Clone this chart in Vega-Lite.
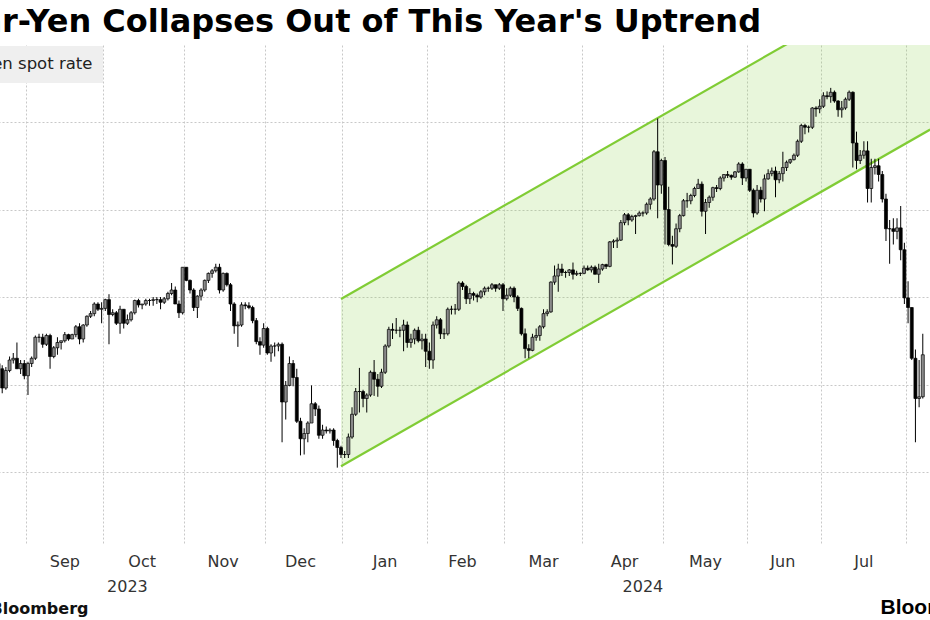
{
"$schema": "https://vega.github.io/schema/vega-lite/v6.json",
"width": 939, "height": 500,
"autosize": {"type": "none"},
"padding": {"left": -7, "top": 45, "right": -2, "bottom": 75},
"background": "white",
"title": {"text": "Dollar-Yen Collapses Out of This Year's Uptrend", "anchor": "start", "frame": "group", "dx": -83, "dy": 2, "font": "DejaVu Sans", "fontSize": 32, "fontWeight": "bold", "color": "#000", "offset": 8},
"config": {"view": {"stroke": null},
  "axis": {"labelFont": "DejaVu Sans", "labelFontSize": 16, "labelColor": "#333", "labelAngle": 0, "domain": false, "ticks": false, "tickSize": 0, "labelOverlap": false, "labelFlush": false},
  "axisY": {"grid": true, "gridColor": "#c8c8c8", "gridDash": [2, 2], "labels": false, "tickCount": 6, "title": null}},
"datasets": {
"channel": [{"d": "2023-12-29", "lower": 140.33, "upper": 149.89}, {"d": "2024-08-09", "lower": 159.57, "upper": 169.13}],
"fx": [
{"d":"2023-08-21","o":145.4,"h":146.4,"l":145.3,"c":146.2},
{"d":"2023-08-22","o":146.2,"h":146.5,"l":145.6,"c":145.9},
{"d":"2023-08-23","o":145.9,"h":146.1,"l":144.5,"c":144.8},
{"d":"2023-08-24","o":144.8,"h":146.0,"l":144.7,"c":145.8},
{"d":"2023-08-25","o":145.8,"h":146.6,"l":145.7,"c":146.4},
{"d":"2023-08-28","o":146.4,"h":146.8,"l":146.2,"c":146.5},
{"d":"2023-08-29","o":146.5,"h":147.4,"l":145.9,"c":145.9},
{"d":"2023-08-30","o":145.9,"h":146.4,"l":145.6,"c":146.2},
{"d":"2023-08-31","o":146.2,"h":146.4,"l":145.3,"c":145.5},
{"d":"2023-09-01","o":145.5,"h":146.3,"l":144.4,"c":146.2},
{"d":"2023-09-04","o":146.2,"h":146.6,"l":146.0,"c":146.5},
{"d":"2023-09-05","o":146.5,"h":147.8,"l":146.4,"c":147.7},
{"d":"2023-09-06","o":147.7,"h":147.9,"l":147.4,"c":147.7},
{"d":"2023-09-07","o":147.7,"h":147.9,"l":147.1,"c":147.3},
{"d":"2023-09-08","o":147.3,"h":147.9,"l":147.2,"c":147.8},
{"d":"2023-09-11","o":147.8,"h":147.9,"l":145.9,"c":146.6},
{"d":"2023-09-12","o":146.6,"h":147.2,"l":146.5,"c":147.1},
{"d":"2023-09-13","o":147.1,"h":147.7,"l":146.7,"c":147.4},
{"d":"2023-09-14","o":147.4,"h":147.5,"l":147.0,"c":147.5},
{"d":"2023-09-15","o":147.5,"h":148.0,"l":147.4,"c":147.85},
{"d":"2023-09-18","o":147.85,"h":147.9,"l":147.5,"c":147.6},
{"d":"2023-09-19","o":147.6,"h":147.9,"l":147.6,"c":147.85},
{"d":"2023-09-20","o":147.85,"h":148.4,"l":147.7,"c":148.3},
{"d":"2023-09-21","o":148.3,"h":148.5,"l":147.3,"c":147.6},
{"d":"2023-09-22","o":147.6,"h":148.45,"l":147.4,"c":148.4},
{"d":"2023-09-25","o":148.4,"h":148.95,"l":148.3,"c":148.9},
{"d":"2023-09-26","o":148.9,"h":149.2,"l":148.8,"c":149.05},
{"d":"2023-09-27","o":149.05,"h":149.7,"l":148.9,"c":149.6},
{"d":"2023-09-28","o":149.6,"h":149.7,"l":149.2,"c":149.3},
{"d":"2023-09-29","o":149.3,"h":149.7,"l":148.5,"c":149.35},
{"d":"2023-10-02","o":149.35,"h":149.9,"l":149.2,"c":149.85},
{"d":"2023-10-03","o":149.85,"h":150.16,"l":147.3,"c":149.0},
{"d":"2023-10-04","o":149.0,"h":149.3,"l":148.9,"c":149.1},
{"d":"2023-10-05","o":149.1,"h":149.2,"l":148.4,"c":148.5},
{"d":"2023-10-06","o":148.5,"h":149.5,"l":147.9,"c":149.3},
{"d":"2023-10-09","o":149.3,"h":149.3,"l":148.2,"c":148.5},
{"d":"2023-10-10","o":148.5,"h":149.0,"l":148.4,"c":148.7},
{"d":"2023-10-11","o":148.7,"h":149.2,"l":148.6,"c":149.1},
{"d":"2023-10-12","o":149.1,"h":149.85,"l":149.0,"c":149.8},
{"d":"2023-10-13","o":149.8,"h":149.9,"l":149.4,"c":149.55},
{"d":"2023-10-16","o":149.55,"h":149.6,"l":149.3,"c":149.6},
{"d":"2023-10-17","o":149.6,"h":149.9,"l":149.5,"c":149.8},
{"d":"2023-10-18","o":149.8,"h":149.9,"l":149.5,"c":149.8},
{"d":"2023-10-19","o":149.8,"h":150.0,"l":149.5,"c":149.85},
{"d":"2023-10-20","o":149.85,"h":150.0,"l":149.6,"c":149.85},
{"d":"2023-10-23","o":149.85,"h":150.0,"l":149.3,"c":149.7},
{"d":"2023-10-24","o":149.7,"h":150.0,"l":149.6,"c":149.9},
{"d":"2023-10-25","o":149.9,"h":150.3,"l":149.8,"c":150.2},
{"d":"2023-10-26","o":150.2,"h":150.8,"l":150.1,"c":150.4},
{"d":"2023-10-27","o":150.4,"h":150.6,"l":149.6,"c":149.6},
{"d":"2023-10-30","o":149.6,"h":149.8,"l":148.8,"c":149.1},
{"d":"2023-10-31","o":149.1,"h":151.7,"l":149.0,"c":151.7},
{"d":"2023-11-01","o":151.7,"h":151.7,"l":150.9,"c":150.95},
{"d":"2023-11-02","o":150.95,"h":151.0,"l":150.2,"c":150.4},
{"d":"2023-11-03","o":150.4,"h":150.5,"l":149.2,"c":149.4},
{"d":"2023-11-06","o":149.4,"h":150.1,"l":148.8,"c":150.05},
{"d":"2023-11-07","o":150.05,"h":150.5,"l":149.8,"c":150.4},
{"d":"2023-11-08","o":150.4,"h":151.0,"l":150.3,"c":150.95},
{"d":"2023-11-09","o":150.95,"h":151.4,"l":150.8,"c":151.35},
{"d":"2023-11-10","o":151.35,"h":151.6,"l":151.1,"c":151.5},
{"d":"2023-11-13","o":151.5,"h":151.9,"l":151.4,"c":151.7},
{"d":"2023-11-14","o":151.7,"h":151.9,"l":150.2,"c":150.4},
{"d":"2023-11-15","o":150.4,"h":151.4,"l":150.3,"c":151.35},
{"d":"2023-11-16","o":151.35,"h":151.4,"l":150.6,"c":150.7},
{"d":"2023-11-17","o":150.7,"h":150.8,"l":149.2,"c":149.6},
{"d":"2023-11-20","o":149.6,"h":149.7,"l":147.9,"c":148.35},
{"d":"2023-11-21","o":148.35,"h":148.6,"l":147.15,"c":148.4},
{"d":"2023-11-22","o":148.4,"h":149.7,"l":148.3,"c":149.55},
{"d":"2023-11-23","o":149.55,"h":149.7,"l":149.3,"c":149.5},
{"d":"2023-11-24","o":149.5,"h":149.7,"l":149.3,"c":149.4},
{"d":"2023-11-27","o":149.4,"h":149.5,"l":148.5,"c":148.65},
{"d":"2023-11-28","o":148.65,"h":148.8,"l":147.3,"c":147.45},
{"d":"2023-11-29","o":147.45,"h":147.7,"l":146.7,"c":147.25},
{"d":"2023-11-30","o":147.25,"h":148.5,"l":147.1,"c":148.2},
{"d":"2023-12-01","o":148.2,"h":148.3,"l":146.7,"c":146.8},
{"d":"2023-12-04","o":146.8,"h":147.3,"l":146.3,"c":147.2},
{"d":"2023-12-05","o":147.2,"h":147.4,"l":146.6,"c":147.2},
{"d":"2023-12-06","o":147.2,"h":147.4,"l":146.9,"c":147.3},
{"d":"2023-12-07","o":147.3,"h":147.4,"l":141.7,"c":144.0},
{"d":"2023-12-08","o":144.0,"h":145.2,"l":143.0,"c":144.95},
{"d":"2023-12-11","o":144.95,"h":146.6,"l":144.9,"c":146.2},
{"d":"2023-12-12","o":146.2,"h":146.4,"l":144.9,"c":145.4},
{"d":"2023-12-13","o":145.4,"h":145.9,"l":142.8,"c":142.9},
{"d":"2023-12-14","o":142.9,"h":143.1,"l":140.95,"c":141.9},
{"d":"2023-12-15","o":141.9,"h":142.5,"l":141.0,"c":142.2},
{"d":"2023-12-18","o":142.2,"h":142.9,"l":141.7,"c":142.8},
{"d":"2023-12-19","o":142.8,"h":144.95,"l":142.8,"c":143.9},
{"d":"2023-12-20","o":143.9,"h":144.0,"l":143.2,"c":143.6},
{"d":"2023-12-21","o":143.6,"h":143.8,"l":141.9,"c":142.1},
{"d":"2023-12-22","o":142.1,"h":142.7,"l":141.9,"c":142.4},
{"d":"2023-12-25","o":142.4,"h":142.6,"l":142.2,"c":142.35},
{"d":"2023-12-26","o":142.35,"h":142.5,"l":142.2,"c":142.4},
{"d":"2023-12-27","o":142.4,"h":142.5,"l":141.5,"c":141.8},
{"d":"2023-12-28","o":141.8,"h":141.9,"l":140.25,"c":141.4},
{"d":"2023-12-29","o":141.4,"h":141.5,"l":140.8,"c":141.0},
{"d":"2024-01-01","o":141.0,"h":141.2,"l":140.8,"c":141.0},
{"d":"2024-01-02","o":141.0,"h":142.2,"l":140.8,"c":142.0},
{"d":"2024-01-03","o":142.0,"h":143.7,"l":141.9,"c":143.3},
{"d":"2024-01-04","o":143.3,"h":144.8,"l":143.2,"c":144.6},
{"d":"2024-01-05","o":144.6,"h":145.95,"l":143.4,"c":144.6},
{"d":"2024-01-08","o":144.6,"h":144.7,"l":143.7,"c":144.2},
{"d":"2024-01-09","o":144.2,"h":144.5,"l":143.4,"c":144.4},
{"d":"2024-01-10","o":144.4,"h":145.8,"l":144.3,"c":145.7},
{"d":"2024-01-11","o":145.7,"h":146.4,"l":144.35,"c":145.3},
{"d":"2024-01-12","o":145.3,"h":145.6,"l":144.3,"c":144.9},
{"d":"2024-01-15","o":144.9,"h":145.9,"l":144.8,"c":145.7},
{"d":"2024-01-16","o":145.7,"h":147.3,"l":145.6,"c":147.2},
{"d":"2024-01-17","o":147.2,"h":148.3,"l":147.1,"c":148.15},
{"d":"2024-01-18","o":148.15,"h":148.5,"l":147.6,"c":148.1},
{"d":"2024-01-19","o":148.1,"h":148.8,"l":147.9,"c":148.1},
{"d":"2024-01-22","o":148.1,"h":148.3,"l":147.7,"c":148.1},
{"d":"2024-01-23","o":148.1,"h":148.7,"l":146.9,"c":148.4},
{"d":"2024-01-24","o":148.4,"h":148.6,"l":147.1,"c":147.4},
{"d":"2024-01-25","o":147.4,"h":147.9,"l":147.1,"c":147.6},
{"d":"2024-01-26","o":147.6,"h":148.2,"l":147.3,"c":148.1},
{"d":"2024-01-29","o":148.1,"h":148.3,"l":147.4,"c":147.5},
{"d":"2024-01-30","o":147.5,"h":147.9,"l":147.0,"c":147.6},
{"d":"2024-01-31","o":147.6,"h":147.9,"l":146.0,"c":146.9},
{"d":"2024-02-01","o":146.9,"h":147.4,"l":145.9,"c":146.4},
{"d":"2024-02-02","o":146.4,"h":148.6,"l":145.9,"c":148.4},
{"d":"2024-02-05","o":148.4,"h":148.9,"l":148.2,"c":148.7},
{"d":"2024-02-06","o":148.7,"h":148.8,"l":147.6,"c":147.9},
{"d":"2024-02-07","o":147.9,"h":148.2,"l":147.6,"c":147.9},
{"d":"2024-02-08","o":147.9,"h":149.4,"l":147.8,"c":149.3},
{"d":"2024-02-09","o":149.3,"h":149.5,"l":149.0,"c":149.3},
{"d":"2024-02-12","o":149.3,"h":149.6,"l":149.0,"c":149.3},
{"d":"2024-02-13","o":149.3,"h":150.9,"l":149.2,"c":150.8},
{"d":"2024-02-14","o":150.8,"h":150.9,"l":150.4,"c":150.6},
{"d":"2024-02-15","o":150.6,"h":150.7,"l":149.6,"c":149.9},
{"d":"2024-02-16","o":149.9,"h":150.5,"l":149.6,"c":150.2},
{"d":"2024-02-19","o":150.2,"h":150.3,"l":149.8,"c":150.1},
{"d":"2024-02-20","o":150.1,"h":150.2,"l":149.7,"c":150.0},
{"d":"2024-02-21","o":150.0,"h":150.4,"l":149.9,"c":150.3},
{"d":"2024-02-22","o":150.3,"h":150.6,"l":150.1,"c":150.5},
{"d":"2024-02-23","o":150.5,"h":150.6,"l":150.3,"c":150.5},
{"d":"2024-02-26","o":150.5,"h":150.8,"l":150.4,"c":150.7},
{"d":"2024-02-27","o":150.7,"h":150.7,"l":150.3,"c":150.5},
{"d":"2024-02-28","o":150.5,"h":150.8,"l":150.4,"c":150.7},
{"d":"2024-02-29","o":150.7,"h":150.8,"l":149.2,"c":149.9},
{"d":"2024-03-01","o":149.9,"h":150.5,"l":149.8,"c":150.1},
{"d":"2024-03-04","o":150.1,"h":150.6,"l":150.0,"c":150.5},
{"d":"2024-03-05","o":150.5,"h":150.6,"l":149.7,"c":150.0},
{"d":"2024-03-06","o":150.0,"h":150.1,"l":149.2,"c":149.35},
{"d":"2024-03-07","o":149.35,"h":149.4,"l":147.8,"c":147.9},
{"d":"2024-03-08","o":147.9,"h":148.2,"l":146.5,"c":147.05},
{"d":"2024-03-11","o":147.05,"h":147.3,"l":146.5,"c":146.95},
{"d":"2024-03-12","o":146.95,"h":147.9,"l":146.9,"c":147.7},
{"d":"2024-03-13","o":147.7,"h":148.2,"l":147.5,"c":147.8},
{"d":"2024-03-14","o":147.8,"h":148.4,"l":147.5,"c":148.3},
{"d":"2024-03-15","o":148.3,"h":149.3,"l":148.2,"c":149.05},
{"d":"2024-03-18","o":149.05,"h":149.3,"l":148.9,"c":149.15},
{"d":"2024-03-19","o":149.15,"h":150.9,"l":149.1,"c":150.85},
{"d":"2024-03-20","o":150.85,"h":151.8,"l":150.7,"c":151.2},
{"d":"2024-03-21","o":151.2,"h":151.9,"l":150.3,"c":151.6},
{"d":"2024-03-22","o":151.6,"h":151.9,"l":151.2,"c":151.4},
{"d":"2024-03-25","o":151.4,"h":151.5,"l":151.1,"c":151.4},
{"d":"2024-03-26","o":151.4,"h":151.6,"l":151.2,"c":151.55},
{"d":"2024-03-27","o":151.55,"h":151.97,"l":151.0,"c":151.3},
{"d":"2024-03-28","o":151.3,"h":151.5,"l":151.2,"c":151.35},
{"d":"2024-03-29","o":151.35,"h":151.4,"l":151.2,"c":151.35},
{"d":"2024-04-01","o":151.35,"h":151.8,"l":151.3,"c":151.65},
{"d":"2024-04-02","o":151.65,"h":151.8,"l":151.5,"c":151.55},
{"d":"2024-04-03","o":151.55,"h":151.8,"l":151.4,"c":151.7},
{"d":"2024-04-04","o":151.7,"h":151.8,"l":151.3,"c":151.3},
{"d":"2024-04-05","o":151.3,"h":151.9,"l":150.8,"c":151.6},
{"d":"2024-04-08","o":151.6,"h":151.9,"l":151.5,"c":151.85},
{"d":"2024-04-09","o":151.85,"h":151.9,"l":151.6,"c":151.75},
{"d":"2024-04-10","o":151.75,"h":153.2,"l":151.7,"c":153.15},
{"d":"2024-04-11","o":153.15,"h":153.3,"l":152.8,"c":153.2},
{"d":"2024-04-12","o":153.2,"h":153.4,"l":152.8,"c":153.25},
{"d":"2024-04-15","o":153.25,"h":154.4,"l":153.2,"c":154.25},
{"d":"2024-04-16","o":154.25,"h":154.8,"l":154.1,"c":154.7},
{"d":"2024-04-17","o":154.7,"h":154.8,"l":154.1,"c":154.4},
{"d":"2024-04-18","o":154.4,"h":154.7,"l":154.3,"c":154.6},
{"d":"2024-04-19","o":154.6,"h":154.7,"l":153.6,"c":154.65},
{"d":"2024-04-22","o":154.65,"h":154.9,"l":154.6,"c":154.8},
{"d":"2024-04-23","o":154.8,"h":154.9,"l":154.6,"c":154.8},
{"d":"2024-04-24","o":154.8,"h":155.4,"l":154.7,"c":155.3},
{"d":"2024-04-25","o":155.3,"h":155.7,"l":155.0,"c":155.6},
{"d":"2024-04-26","o":155.6,"h":158.4,"l":155.5,"c":158.3},
{"d":"2024-04-29","o":158.3,"h":160.2,"l":154.5,"c":156.4},
{"d":"2024-04-30","o":156.4,"h":157.9,"l":155.9,"c":157.8},
{"d":"2024-05-01","o":157.8,"h":158.0,"l":153.0,"c":155.0},
{"d":"2024-05-02","o":155.0,"h":156.3,"l":152.9,"c":153.0},
{"d":"2024-05-03","o":153.0,"h":153.5,"l":151.86,"c":152.9},
{"d":"2024-05-06","o":152.9,"h":154.2,"l":152.8,"c":153.9},
{"d":"2024-05-07","o":153.9,"h":154.75,"l":153.7,"c":154.65},
{"d":"2024-05-08","o":154.65,"h":155.6,"l":154.6,"c":155.5},
{"d":"2024-05-09","o":155.5,"h":155.95,"l":155.1,"c":155.5},
{"d":"2024-05-10","o":155.5,"h":155.9,"l":155.3,"c":155.8},
{"d":"2024-05-13","o":155.8,"h":156.3,"l":155.7,"c":156.2},
{"d":"2024-05-14","o":156.2,"h":156.75,"l":156.2,"c":156.45},
{"d":"2024-05-15","o":156.45,"h":156.6,"l":154.6,"c":154.9},
{"d":"2024-05-16","o":154.9,"h":155.6,"l":153.6,"c":155.4},
{"d":"2024-05-17","o":155.4,"h":155.8,"l":155.1,"c":155.7},
{"d":"2024-05-20","o":155.7,"h":156.3,"l":155.5,"c":156.25},
{"d":"2024-05-21","o":156.25,"h":156.4,"l":156.0,"c":156.2},
{"d":"2024-05-22","o":156.2,"h":156.9,"l":156.1,"c":156.8},
{"d":"2024-05-23","o":156.8,"h":157.0,"l":156.6,"c":157.0},
{"d":"2024-05-24","o":157.0,"h":157.2,"l":156.8,"c":156.95},
{"d":"2024-05-27","o":156.95,"h":157.0,"l":156.7,"c":156.85},
{"d":"2024-05-28","o":156.85,"h":157.2,"l":156.8,"c":157.15},
{"d":"2024-05-29","o":157.15,"h":157.7,"l":157.1,"c":157.6},
{"d":"2024-05-30","o":157.6,"h":157.7,"l":156.4,"c":156.8},
{"d":"2024-05-31","o":156.8,"h":157.3,"l":156.6,"c":157.3},
{"d":"2024-06-03","o":157.3,"h":157.3,"l":156.0,"c":156.1},
{"d":"2024-06-04","o":156.1,"h":156.2,"l":154.55,"c":154.8},
{"d":"2024-06-05","o":154.8,"h":156.4,"l":154.7,"c":156.1},
{"d":"2024-06-06","o":156.1,"h":156.3,"l":155.4,"c":155.6},
{"d":"2024-06-07","o":155.6,"h":157.0,"l":154.9,"c":156.75},
{"d":"2024-06-10","o":156.75,"h":157.3,"l":156.7,"c":157.05},
{"d":"2024-06-11","o":157.05,"h":157.4,"l":156.9,"c":157.2},
{"d":"2024-06-12","o":157.2,"h":157.45,"l":155.7,"c":156.7},
{"d":"2024-06-13","o":156.7,"h":157.2,"l":156.5,"c":157.05},
{"d":"2024-06-14","o":157.05,"h":158.3,"l":156.6,"c":157.4},
{"d":"2024-06-17","o":157.4,"h":157.8,"l":157.2,"c":157.7},
{"d":"2024-06-18","o":157.7,"h":157.9,"l":157.6,"c":157.85},
{"d":"2024-06-19","o":157.85,"h":158.2,"l":157.8,"c":158.1},
{"d":"2024-06-20","o":158.1,"h":159.0,"l":158.0,"c":158.9},
{"d":"2024-06-21","o":158.9,"h":159.9,"l":158.8,"c":159.8},
{"d":"2024-06-24","o":159.8,"h":159.9,"l":159.3,"c":159.7},
{"d":"2024-06-25","o":159.7,"h":159.8,"l":159.4,"c":159.7},
{"d":"2024-06-26","o":159.7,"h":160.85,"l":159.6,"c":160.8},
{"d":"2024-06-27","o":160.8,"h":160.9,"l":160.3,"c":160.75},
{"d":"2024-06-28","o":160.75,"h":161.3,"l":160.5,"c":160.9},
{"d":"2024-07-01","o":160.9,"h":161.7,"l":160.8,"c":161.5},
{"d":"2024-07-02","o":161.5,"h":161.75,"l":161.3,"c":161.45},
{"d":"2024-07-03","o":161.45,"h":161.95,"l":161.1,"c":161.7},
{"d":"2024-07-04","o":161.7,"h":161.8,"l":161.1,"c":161.2},
{"d":"2024-07-05","o":161.2,"h":161.25,"l":160.3,"c":160.7},
{"d":"2024-07-08","o":160.7,"h":161.2,"l":160.25,"c":160.8},
{"d":"2024-07-09","o":160.8,"h":161.4,"l":160.7,"c":161.3},
{"d":"2024-07-10","o":161.3,"h":161.8,"l":161.2,"c":161.7},
{"d":"2024-07-11","o":161.7,"h":161.75,"l":157.4,"c":158.8},
{"d":"2024-07-12","o":158.8,"h":159.45,"l":157.3,"c":157.8},
{"d":"2024-07-15","o":157.8,"h":158.4,"l":157.6,"c":158.1},
{"d":"2024-07-16","o":158.1,"h":158.9,"l":157.9,"c":158.35},
{"d":"2024-07-17","o":158.35,"h":158.9,"l":155.4,"c":156.2},
{"d":"2024-07-18","o":156.2,"h":157.9,"l":155.4,"c":157.4},
{"d":"2024-07-19","o":157.4,"h":157.9,"l":157.0,"c":157.5},
{"d":"2024-07-22","o":157.5,"h":157.9,"l":156.6,"c":157.0},
{"d":"2024-07-23","o":157.0,"h":157.2,"l":155.4,"c":155.6},
{"d":"2024-07-24","o":155.6,"h":155.9,"l":153.2,"c":153.9},
{"d":"2024-07-25","o":153.9,"h":154.4,"l":151.9,"c":153.9},
{"d":"2024-07-26","o":153.9,"h":154.5,"l":153.0,"c":153.75},
{"d":"2024-07-29","o":153.75,"h":154.5,"l":153.3,"c":153.95},
{"d":"2024-07-30","o":153.95,"h":155.2,"l":152.1,"c":152.7},
{"d":"2024-07-31","o":152.7,"h":153.1,"l":149.6,"c":149.95},
{"d":"2024-08-01","o":149.95,"h":150.9,"l":148.5,"c":149.4},
{"d":"2024-08-02","o":149.4,"h":149.4,"l":146.4,"c":146.5},
{"d":"2024-08-05","o":146.5,"h":147.0,"l":141.7,"c":144.2},
{"d":"2024-08-06","o":144.2,"h":146.4,"l":143.7,"c":144.3},
{"d":"2024-08-07","o":144.3,"h":147.9,"l":144.2,"c":146.7}
]},
"resolve": {"axis": {"x": "independent"}},
"layer": [
{"data": {"name": "fx"},
 "mark": {"type": "rule", "strokeWidth": 1, "opacity": 0},
 "encoding": {
  "x": {"field": "d", "type": "ordinal", "sort": "ascending", "scale": {"type": "band", "paddingInner": 0, "paddingOuter": 0, "domain": {"unionWith": ["2024-08-08", "2024-08-09"]}},
        "axis": {"orient": "bottom", "values": ["2023-09-01","2023-10-02","2023-11-01","2023-12-01","2024-01-01","2024-02-01","2024-03-01","2024-04-01","2024-05-01","2024-06-03","2024-07-01","2024-08-01"],
                 "bandPosition": 0, "grid": true, "gridColor": "#c8c8c8", "gridDash": [2, 2], "labels": false,
                 "title": "Source: Bloomberg", "titleFont": "DejaVu Sans", "titleFontSize": 16, "titleFontWeight": "bold", "titleColor": "#111", "titleAlign": "right", "titleBaseline": "alphabetic", "titleAnchor": null, "titleX": 95, "titleY": 68}},
  "y": {"field": "l", "type": "quantitative", "scale": {"domain": [135.83, 164.4], "nice": false, "zero": false},
        "axis": {"orient": "right", "values": [140, 145, 150, 155, 160], "grid": true, "gridColor": "#c8c8c8", "gridDash": [2, 2], "labels": false, "title": null}}
 }},
{"data": {"name": "channel"},
 "mark": {"type": "area", "clip": true, "fill": "#8ed04c", "fillOpacity": 0.2},
 "encoding": {
  "x": {"field": "d", "type": "ordinal", "sort": "ascending",
        "axis": {"orient": "bottom", "values": ["2023-10-10", "2024-04-23"], "labelExpr": "substring(datum.value, 0, 4)", "labelBaseline": "alphabetic", "labelPadding": 46, "grid": false,
                 "title": "Bloomberg", "titleFont": "Liberation Sans", "titleFontSize": 21, "titleFontWeight": "bold", "titleColor": "#000", "titleAlign": "left", "titleBaseline": "alphabetic", "titleAnchor": null, "titleX": 887, "titleY": 68}},
  "y": {"field": "lower", "type": "quantitative", "axis": {"orient": "right", "values": [140, 145, 150, 155, 160], "grid": true, "gridColor": "#c8c8c8", "gridDash": [2, 2], "labels": false, "title": null}},
  "y2": {"field": "upper"}
 }},
{"data": {"name": "channel"},
 "mark": {"type": "line", "clip": true, "color": "#80cc35", "strokeWidth": 2.2},
 "encoding": {"x": {"field": "d", "type": "ordinal", "sort": "ascending", "axis": null}, "y": {"field": "upper", "type": "quantitative", "axis": {"orient": "right", "values": [140, 145, 150, 155, 160], "grid": true, "gridColor": "#c8c8c8", "gridDash": [2, 2], "labels": false, "title": null}}}},
{"data": {"name": "channel"},
 "mark": {"type": "line", "clip": true, "color": "#80cc35", "strokeWidth": 2.2},
 "encoding": {"x": {"field": "d", "type": "ordinal", "sort": "ascending", "axis": null}, "y": {"field": "lower", "type": "quantitative", "axis": {"orient": "right", "values": [140, 145, 150, 155, 160], "grid": true, "gridColor": "#c8c8c8", "gridDash": [2, 2], "labels": false, "title": null}}}},
{"data": {"name": "fx"},
 "mark": {"type": "rule", "strokeWidth": 1},
 "encoding": {
  "x": {"field": "d", "type": "ordinal", "sort": "ascending", "axis": null},
  "y": {"field": "l", "type": "quantitative", "axis": {"orient": "right", "values": [140, 145, 150, 155, 160], "grid": true, "gridColor": "#c8c8c8", "gridDash": [2, 2], "labels": false, "title": null}},
  "y2": {"field": "h"},
  "color": {"datum": "Dollar-Yen spot rate", "type": "nominal", "scale": {"range": ["#000000"]},
            "legend": {"orient": "none", "legendX": -93, "legendY": 1, "title": null, "fillColor": "#efefef", "padding": 10, "labelFont": "DejaVu Sans", "labelFontSize": 16.5, "labelColor": "#222", "symbolType": "stroke", "symbolStrokeWidth": 2, "symbolSize": 100, "labelOffset": 6}}
 }},
{"data": {"name": "fx"},
 "mark": {"type": "bar", "width": 3, "stroke": "#000", "strokeWidth": 0.7},
 "encoding": {
  "x": {"field": "d", "type": "ordinal", "sort": "ascending",
        "axis": {"orient": "bottom", "values": ["2023-09-15","2023-10-16","2023-11-15","2023-12-14","2024-01-16","2024-02-14","2024-03-15","2024-04-16","2024-05-16","2024-06-14","2024-07-16"],
                 "labelExpr": "utcFormat(toDate(datum.value), '%b')", "labelBaseline": "alphabetic", "labelPadding": 21, "grid": false, "title": null}},
  "y": {"field": "o", "type": "quantitative", "axis": {"orient": "right", "values": [140, 145, 150, 155, 160], "grid": true, "gridColor": "#c8c8c8", "gridDash": [2, 2], "labels": false, "title": null}},
  "y2": {"field": "c"},
  "fill": {"condition": {"test": "datum.c < datum.o", "value": "#000000"}, "value": "#8a8a8a"}
 }}
]
}
